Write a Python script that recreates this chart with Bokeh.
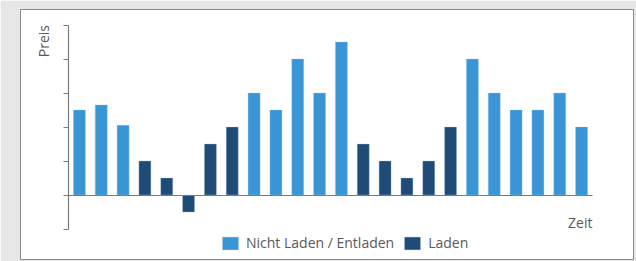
from bokeh.plotting import figure
from bokeh.models import (Range1d, Legend, LegendItem, Label,
                          ColumnDataSource, SingleIntervalTicker)
from bokeh.embed import file_html
from bokeh.resources import INLINE

# ---- data ----
hours = list(range(1, 25))
prices = [2.5, 2.65, 2.05, 1.0, 0.5, -0.5, 1.5, 2.0, 3.0, 2.5, 4.0, 3.0,
          4.5, 1.5, 1.0, 0.5, 1.0, 2.0, 4.0, 3.0, 2.5, 2.5, 3.0, 2.0]
modes = (["Nicht Laden / Entladen"] * 3 + ["Laden"] * 5 +
         ["Nicht Laden / Entladen"] * 5 + ["Laden"] * 5 +
         ["Nicht Laden / Entladen"] * 6)
series = ["Nicht Laden / Entladen", "Laden"]
colors = {"Nicht Laden / Entladen": "#3a95d6", "Laden": "#1f4b76"}
y_label = "Preis"
x_label = "Zeit"
y_min, y_max = -1, 5

FONT = "Open Sans"
TXT = "#595959"
AX = "#7a7a7a"

# frame = the chart card (page px 20..633 x 9..259); axes sit inside it
p = figure(width=636, height=261,
           x_range=Range1d(-1.698, 26.378), y_range=Range1d(-1.897, 5.456),
           output_backend="svg", toolbar_location=None,
           min_border_left=20, min_border_right=3, min_border_top=9,
           min_border_bottom=2, background_fill_color="white",
           border_fill_color="#e6e6e6")
p.outline_line_color = "#8a8a8a"
p.outline_line_width = 1
p.grid.visible = False

items = []
for s in series:
    src = ColumnDataSource(dict(
        x=[h for h, m in zip(hours, modes) if m == s],
        top=[v for v, m in zip(prices, modes) if m == s]))
    r = p.vbar(x="x", top="top", bottom=0, width=0.55, source=src,
               fill_color=colors[s], line_color="#9cc8ea", line_width=0.6,
               line_alpha=0.6)
    items.append(LegendItem(label=s, renderers=[r]))

# y axis
ya = p.yaxis[0]
ya.fixed_location = hours[0] - 0.5
ya.bounds = (y_min, y_max)
ya.ticker = SingleIntervalTicker(interval=1)
ya.major_tick_out = 5
ya.major_tick_in = 0
ya.minor_tick_line_color = None
ya.major_label_text_font_size = "0px"
ya.axis_line_color = AX
ya.major_tick_line_color = AX
ya.axis_line_width = 1.2
ya.major_tick_line_width = 1.2

# x axis at zero
xa = p.xaxis[0]
xa.fixed_location = 0
xa.bounds = (hours[0] - 0.5, hours[-1] + 0.5)
xa.major_tick_line_color = None
xa.minor_tick_line_color = None
xa.major_label_text_font_size = "0px"
xa.axis_line_color = AX
xa.axis_line_width = 1.2

# axis titles
p.add_layout(Label(x=22.5, y=y_max, x_units="screen", y_units="data",
                   text=y_label, angle=1.5708, text_align="right",
                   text_baseline="alphabetic", text_font=FONT,
                   text_font_size="14px", text_color=TXT))
p.add_layout(Label(x=hours[-1] + 0.5, y=-0.81, text=x_label,
                   text_align="right", text_baseline="alphabetic",
                   text_font=FONT, text_font_size="14px", text_color=TXT))

legend = Legend(items=items, orientation="horizontal", location=(200, 7),
                glyph_width=20, glyph_height=16, padding=0, margin=0,
                spacing=8, label_standoff=6, border_line_color=None,
                background_fill_alpha=0, label_text_font=FONT,
                label_text_font_size="14px", label_text_color=TXT,
                label_height=16)
p.add_layout(legend, "center")

open("out.html", "w").write(file_html(p, INLINE))
